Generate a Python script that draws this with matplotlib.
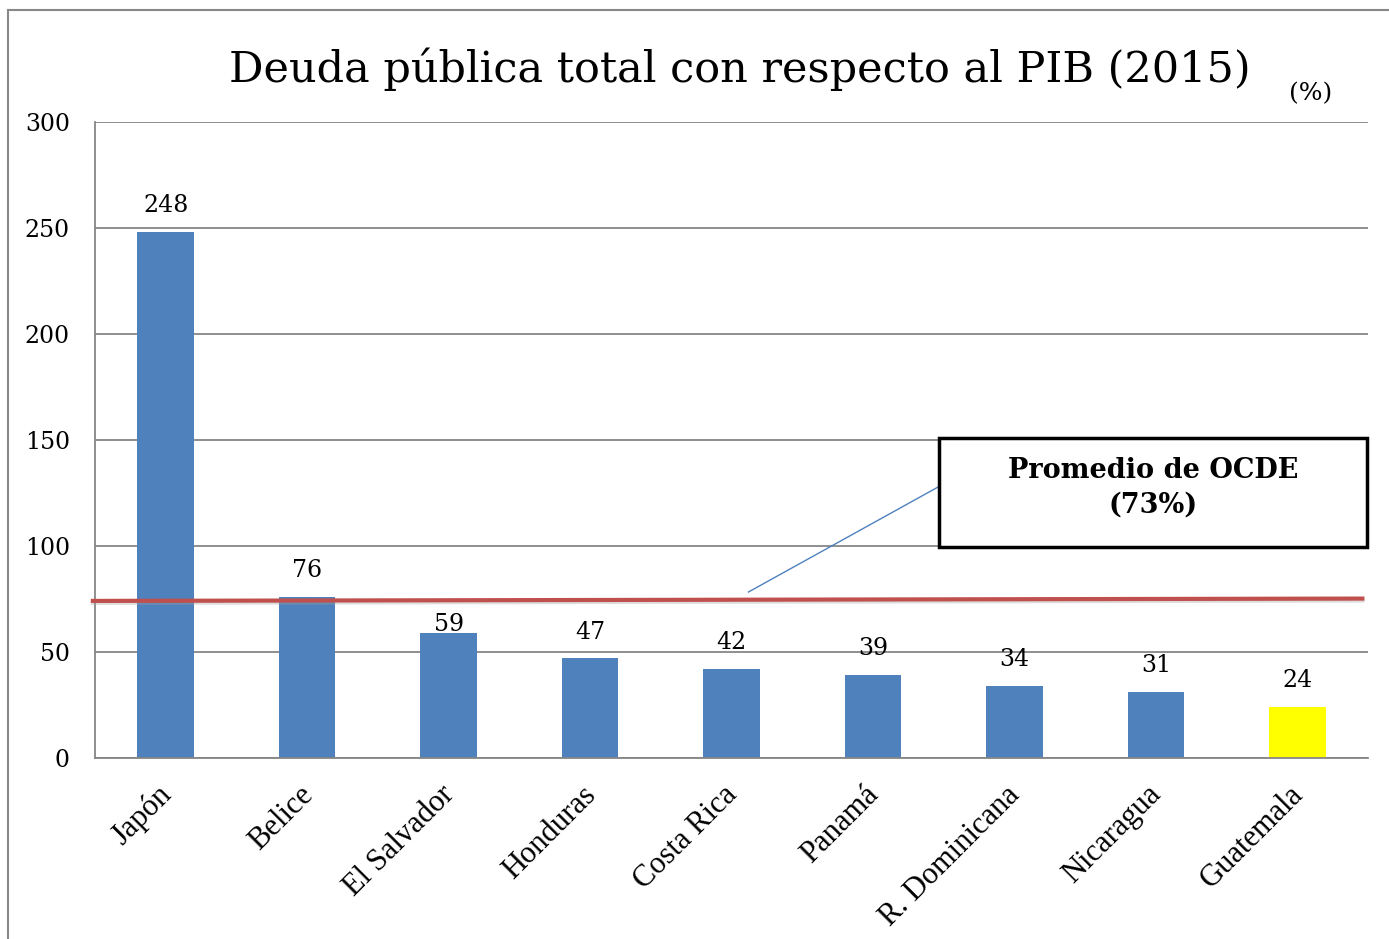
import matplotlib.pyplot as plt
import matplotlib.transforms as mtransforms
from matplotlib.patches import Rectangle
from matplotlib.lines import Line2D

# Data
countries = ["Japón", "Belice", "El Salvador", "Honduras", "Costa Rica",
             "Panamá", "R. Dominicana", "Nicaragua", "Guatemala"]
debt = [248, 76, 59, 47, 42, 39, 34, 31, 24]
ocde_line = [74.1, 75.2]   # hand-drawn average line, slightly tilted
ocde_label = "Promedio de OCDE\n(73%)"

blue = "#4F81BD"
yellow = "#FFFF00"
colors = [yellow if c == "Guatemala" else blue for c in countries]

serif = ["DejaVu Serif"]
times = ["Liberation Serif"]

fig = plt.figure(figsize=(13.89, 9.39), dpi=100)
ax = fig.add_axes([95 / 1389, 1 - 758 / 939, 1273 / 1389, 636 / 939])

ax.bar(range(len(countries)), debt, width=0.40, color=colors, zorder=2)
for i, v in enumerate(debt):
    # the El Salvador label sits lower, just under the OCDE line
    off = -1.5 if countries[i] == "El Salvador" else 7
    ax.text(i, v + off, str(v), ha="center", va="bottom", fontsize=17,
            family=serif, zorder=6)

ax.set_xlim(-0.5, len(countries) - 0.5)
ax.set_ylim(0, 300)
ax.set_yticks(range(0, 301, 50))
ax.yaxis.grid(True, color="#868686", linewidth=1.3)
ax.set_axisbelow(True)
ax.tick_params(axis="y", length=0, pad=18, labelsize=17)
for lab in ax.get_yticklabels():
    lab.set_family(serif)

ax.set_xticks(range(len(countries)), countries, rotation=45, ha="right",
              rotation_mode="anchor", fontsize=22, family=times)
ax.tick_params(axis="x", length=0, pad=16)
shift = mtransforms.ScaledTranslation(-9 / 100, 0, fig.dpi_scale_trans)
for lab in ax.get_xticklabels():
    lab.set_transform(lab.get_transform() + shift)

for s in ["top", "right"]:
    ax.spines[s].set_visible(False)
for s in ["left", "bottom"]:
    ax.spines[s].set_color("#868686")
    ax.spines[s].set_linewidth(1.3)

# OCDE average line
ax.plot([-0.515, 8.46], ocde_line, color="#A0A0A0", lw=3, alpha=0.35,
        zorder=3, clip_on=False, transform=ax.transData +
        mtransforms.ScaledTranslation(0, -2 / 100, fig.dpi_scale_trans))
ax.plot([-0.515, 8.46], ocde_line, color="#C0504D", lw=3, zorder=4,
        clip_on=False)

# callout
ax.plot([4.12, 5.46], [78.3, 127.8], color=blue, lw=1, zorder=4)
ax.add_patch(Rectangle((5.47, 99.5), 3.02, 51.4, facecolor="white",
                       edgecolor="black", lw=2.5, zorder=5, clip_on=False))
ax.text(6.98, 127.5, ocde_label, ha="center", va="center", fontsize=19.5,
        family=serif, fontweight="bold", linespacing=1.35, zorder=6)

# titles
fig.text(740 / 1389, 1 - 82 / 939, "Deuda pública total con respecto al PIB (2015)",
         ha="center", va="baseline", fontsize=31, family=serif)
fig.text(1311 / 1389, 1 - 100 / 939, "(%)", ha="center", va="baseline",
         fontsize=18, family=serif)

# outer frame
fig.add_artist(Line2D([8 / 1389, 1], [1 - 10 / 939, 1 - 10 / 939],
                      color="#888888", lw=1.5))
fig.add_artist(Line2D([8 / 1389, 8 / 1389], [0, 1 - 10 / 939],
                      color="#888888", lw=1.5))

fig.savefig("out.png", dpi=100)
